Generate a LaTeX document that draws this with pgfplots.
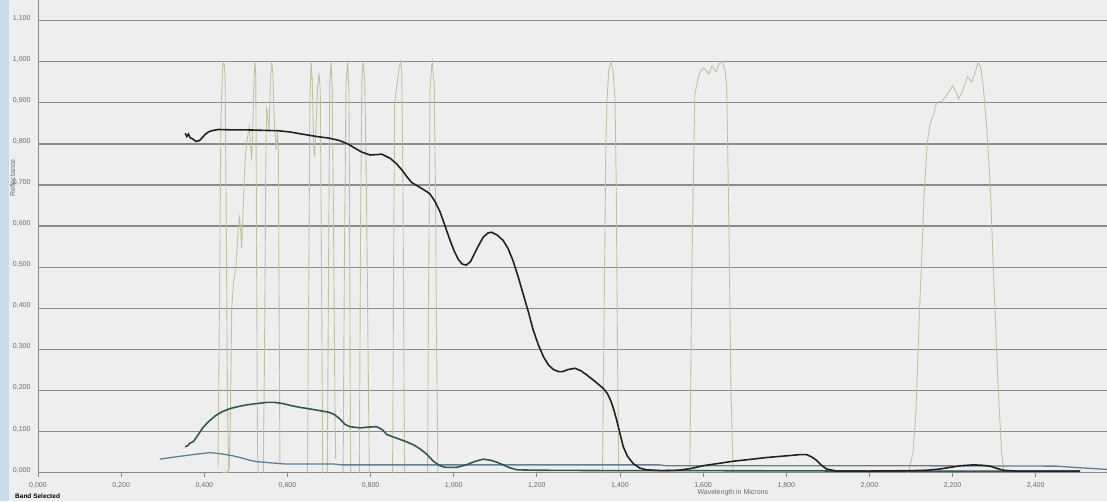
\documentclass[border=0pt]{standalone}
\usepackage{pgfplots}
\pgfplotsset{compat=1.18}
\usepackage{fontspec}
\setmainfont{Liberation Sans}
\definecolor{bg}{HTML}{EEEEEE}
\definecolor{strip}{HTML}{CADCEC}
\definecolor{gridc}{HTML}{8A8A8A}
\definecolor{tickc}{HTML}{6A6A6A}
\definecolor{blackc}{HTML}{222222}
\definecolor{greenc}{HTML}{2E5A52}
\definecolor{bluec}{HTML}{5F7F98}
\definecolor{bandc}{HTML}{C0C49C}
\begin{document}
\begin{tikzpicture}
\fill[bg] (0,0) rectangle (1107pt,501pt);
\path[use as bounding box] (0,0) rectangle (1107pt,501pt);
\fill[strip] (0,0) rectangle (9pt,501pt);
\begin{axis}[
  at={(38pt,28.3pt)}, anchor=south west,
  scale only axis, width=1069pt, height=472.7pt,
  xmin=0, xmax=2.5716, ymin=0, ymax=1.1501,
  clip=false,
  axis x line*=bottom, axis y line*=left,
  axis line style={draw=gridc, line width=1pt, -},
  xtick={0,0.2,...,2.41}, ytick={0,0.1,...,1.11},
  ymajorgrids, grid style={draw=gridc, line width=1.3pt},
  major tick length=4pt, tick align=outside,
  xtick style={draw=gridc, line width=0.8pt},
  ytick style={draw=none},
  /pgf/number format/assume math mode=true,
  ticklabel style={font=\fontsize{7}{8}\selectfont, text=tickc},
  xticklabel={\pgfmathprintnumber[fixed,fixed zerofill,precision=3,use comma]{\tick}},
  yticklabel={\pgfmathprintnumber[fixed,fixed zerofill,precision=3,use comma]{\tick}},
  xticklabel style={anchor=base, yshift=-10.5pt},
  yticklabel style={anchor=east, yshift=2.5pt},
]
% ---- band response curves ----
\addplot[bandc, line width=0.9pt] coordinates {(0.433,0.012)(0.436,0.35)(0.440,0.85)(0.444,0.99)(0.447,1.0)(0.450,0.97)(0.453,0.6)(0.456,0.15)(0.459,0.0)};
\addplot[bandc, line width=0.9pt] coordinates {(0.445,0.0)(0.455,0.002)(0.460,0.01)(0.463,0.15)(0.466,0.40)(0.470,0.46)(0.476,0.50)(0.478,0.535)(0.481,0.58)(0.484,0.623)(0.487,0.60)(0.490,0.546)(0.494,0.65)(0.498,0.761)(0.503,0.81)(0.508,0.842)(0.511,0.80)(0.514,0.761)(0.517,0.85)(0.520,0.97)(0.522,1.0)(0.524,0.96)(0.526,0.5)(0.528,0.05)(0.530,0.0)};
\addplot[bandc, line width=0.9pt] coordinates {(0.542,0.0)(0.545,0.3)(0.548,0.75)(0.550,0.89)(0.553,0.86)(0.556,0.834)(0.559,0.95)(0.562,1.0)(0.565,0.97)(0.568,0.87)(0.570,0.83)(0.573,0.785)(0.576,0.83)(0.578,0.80)(0.580,0.40)(0.582,0.019)};
\addplot[bandc, line width=0.9pt] coordinates {(0.648,0.0)(0.651,0.4)(0.654,0.9)(0.657,1.0)(0.660,0.95)(0.663,0.80)(0.665,0.769)(0.668,0.82)(0.672,0.93)(0.676,0.972)(0.679,0.93)(0.682,0.5)(0.685,0.0)};
\addplot[bandc, line width=0.9pt] coordinates {(0.696,0.0)(0.699,0.5)(0.702,0.95)(0.705,1.0)(0.708,0.93)(0.711,0.6)(0.714,0.2)(0.716,0.035)};
\addplot[bandc, line width=0.9pt] coordinates {(0.734,0.0)(0.737,0.5)(0.741,0.95)(0.745,1.0)(0.748,0.93)(0.750,0.5)(0.752,0.0)};
\addplot[bandc, line width=0.9pt] coordinates {(0.773,0.0)(0.776,0.6)(0.779,0.95)(0.782,1.0)(0.786,0.95)(0.790,0.7)(0.794,0.3)(0.797,0.0)};
\addplot[bandc, line width=0.9pt] coordinates {(0.853,0.0)(0.856,0.6)(0.858,0.90)(0.862,0.93)(0.868,0.98)(0.872,1.0)(0.875,0.98)(0.878,0.7)(0.880,0.3)(0.882,0.0)};
\addplot[bandc, line width=0.9pt] coordinates {(0.937,0.0)(0.940,0.5)(0.943,0.93)(0.947,0.99)(0.949,1.0)(0.951,0.96)(0.953,0.95)(0.956,0.7)(0.959,0.3)(0.962,0.0)};
\addplot[bandc, line width=0.9pt] coordinates {(1.358,0.0)(1.362,0.4)(1.366,0.8)(1.369,0.91)(1.373,0.98)(1.378,1.0)(1.383,0.98)(1.388,0.91)(1.391,0.7)(1.394,0.3)(1.397,0.0)};
\addplot[bandc, line width=0.9pt] coordinates {(1.568,0.0)(1.573,0.5)(1.580,0.92)(1.588,0.96)(1.593,0.975)(1.600,0.985)(1.607,0.98)(1.614,0.97)(1.621,0.99)(1.631,0.975)(1.638,0.995)(1.645,1.0)(1.653,0.98)(1.657,0.93)(1.662,0.6)(1.667,0.2)(1.672,0.0)};
\addplot[bandc, line width=0.9pt] coordinates {(2.094,0.0)(2.105,0.05)(2.112,0.15)(2.120,0.38)(2.127,0.55)(2.131,0.663)(2.139,0.801)(2.146,0.850)(2.154,0.870)(2.160,0.895)(2.166,0.903)(2.174,0.903)(2.186,0.919)(2.200,0.941)(2.208,0.927)(2.214,0.909)(2.222,0.923)(2.236,0.964)(2.246,0.951)(2.254,0.972)(2.262,0.999)(2.268,0.985)(2.274,0.939)(2.282,0.842)(2.288,0.745)(2.292,0.663)(2.300,0.45)(2.310,0.2)(2.318,0.05)(2.324,0.0)};
% ---- blue curve ----
\addplot[bluec, line width=1.3pt] coordinates {(0.293,0.033)(0.320,0.037)(0.350,0.041)(0.380,0.045)(0.414,0.049)(0.440,0.046)(0.469,0.041)(0.490,0.036)(0.510,0.030)(0.526,0.027)(0.560,0.024)(0.598,0.021)(0.650,0.021)(0.714,0.021)(0.730,0.019)(0.900,0.019)(1.200,0.019)(1.496,0.019)(1.510,0.017)(2.000,0.017)(2.450,0.016)(2.507,0.012)(2.5716,0.008)};
% ---- green curve ----
\addplot[greenc, line width=1.6pt] coordinates {(0.354,0.063)(0.360,0.066)(0.366,0.072)(0.374,0.076)(0.385,0.092)(0.397,0.110)(0.410,0.124)(0.426,0.138)(0.442,0.148)(0.462,0.156)(0.482,0.161)(0.502,0.165)(0.525,0.168)(0.550,0.171)(0.570,0.171)(0.590,0.168)(0.610,0.163)(0.630,0.159)(0.655,0.155)(0.678,0.151)(0.700,0.147)(0.712,0.142)(0.725,0.132)(0.738,0.118)(0.750,0.112)(0.775,0.109)(0.795,0.111)(0.815,0.112)(0.828,0.105)(0.839,0.093)(0.860,0.085)(0.887,0.075)(0.905,0.067)(0.919,0.058)(0.935,0.045)(0.951,0.028)(0.965,0.018)(0.980,0.013)(1.007,0.013)(1.030,0.019)(1.050,0.027)(1.071,0.033)(1.090,0.030)(1.105,0.025)(1.119,0.019)(1.135,0.012)(1.152,0.007)(1.200,0.006)(1.400,0.005)(1.600,0.005)(2.000,0.004)(2.300,0.004)(2.507,0.004)};
% ---- black curve ----
\addplot[blackc, line width=1.6pt] coordinates {(0.354,0.826)(0.358,0.818)(0.362,0.824)(0.366,0.815)(0.372,0.812)(0.380,0.806)(0.388,0.808)(0.395,0.815)(0.402,0.823)(0.410,0.829)(0.418,0.832)(0.434,0.835)(0.470,0.834)(0.506,0.834)(0.540,0.833)(0.578,0.832)(0.606,0.829)(0.640,0.823)(0.670,0.818)(0.700,0.814)(0.726,0.808)(0.745,0.800)(0.760,0.791)(0.779,0.780)(0.799,0.773)(0.815,0.774)(0.827,0.775)(0.847,0.765)(0.862,0.752)(0.875,0.737)(0.889,0.718)(0.899,0.706)(0.919,0.694)(0.935,0.684)(0.943,0.678)(0.955,0.660)(0.967,0.635)(0.980,0.598)(0.991,0.566)(1.001,0.540)(1.011,0.519)(1.020,0.508)(1.030,0.505)(1.040,0.513)(1.047,0.527)(1.060,0.553)(1.071,0.573)(1.082,0.583)(1.091,0.585)(1.105,0.578)(1.119,0.565)(1.131,0.545)(1.143,0.515)(1.155,0.477)(1.167,0.435)(1.180,0.390)(1.191,0.348)(1.204,0.310)(1.216,0.282)(1.228,0.262)(1.240,0.251)(1.252,0.246)(1.262,0.246)(1.275,0.251)(1.292,0.254)(1.306,0.248)(1.320,0.238)(1.340,0.222)(1.360,0.205)(1.370,0.192)(1.378,0.175)(1.386,0.150)(1.392,0.128)(1.400,0.095)(1.408,0.063)(1.418,0.040)(1.432,0.022)(1.448,0.011)(1.464,0.007)(1.500,0.005)(1.540,0.006)(1.570,0.010)(1.600,0.017)(1.640,0.023)(1.673,0.028)(1.710,0.032)(1.753,0.037)(1.800,0.041)(1.833,0.044)(1.849,0.044)(1.862,0.038)(1.873,0.030)(1.885,0.018)(1.897,0.009)(1.921,0.004)(2.000,0.004)(2.100,0.005)(2.138,0.006)(2.170,0.009)(2.194,0.013)(2.220,0.017)(2.250,0.019)(2.272,0.018)(2.290,0.016)(2.305,0.011)(2.322,0.006)(2.350,0.004)(2.400,0.004)(2.460,0.004)(2.507,0.004)};
\end{axis}
\node[rotate=90, font=\fontsize{7}{8}\selectfont, text=tickc] at (12.7pt,323pt) {Reflectance};
\node[anchor=west, font=\fontsize{7}{8}\selectfont, text=tickc] at (694pt,8pt) {Wavelength in Microns};
\node[anchor=west, font=\bfseries\fontsize{6.5}{7}\selectfont, text=black, inner sep=0pt] at (15pt,4.5pt) {Band Selected};
\end{tikzpicture}
\end{document}
